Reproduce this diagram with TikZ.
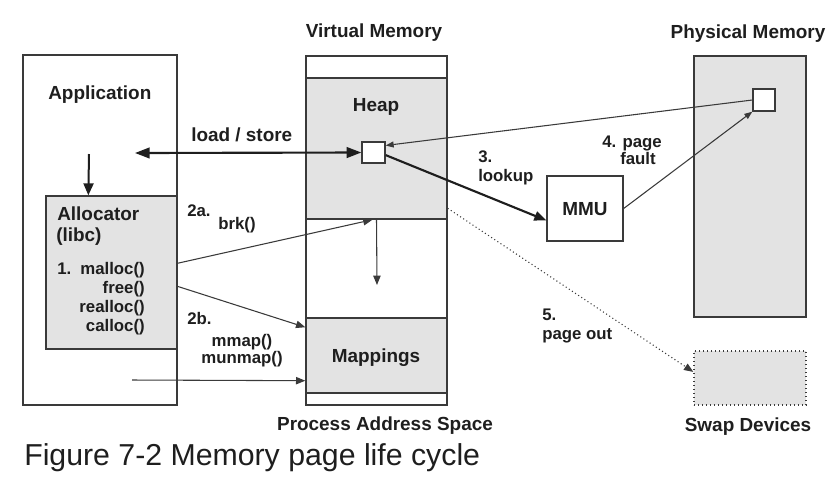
\documentclass[tikz,border=0pt]{standalone}
\usepackage{fontspec}
\setmainfont{Liberation Sans}
\usetikzlibrary{arrows.meta,fit,calc}
\definecolor{boxgray}{HTML}{E3E3E3}
\definecolor{ink}{HTML}{1E1E1E}
\definecolor{edge}{HTML}{3A3A3A}
\tikzset{
  box/.style={draw=edge, line width=1pt, inner sep=0pt},
  grayfill/.style={box, fill=boxgray},
  big/.style={font=\bfseries\fontsize{14.2}{16}\selectfont, text=ink, inner sep=0pt},
  small/.style={font=\bfseries\fontsize{12.6}{15}\selectfont, text=ink, inner sep=0pt},
  thinarrow/.style={draw=edge, line width=0.8pt, -{Triangle[length=7pt,width=5.5pt]}},
  thickarrow/.style={draw=ink, line width=1.6pt, -{Triangle[length=9pt,width=7pt]}},
}
\begin{document}
\begin{tikzpicture}[x=0.75pt,y=-0.75pt]
\useasboundingbox (0,0) rectangle (838,487);
% Application
\node[box, fit={(23,55) (177,405)}] (app) {};
\node[grayfill, fit={(46,196) (177,349)}] (alloc) {};
\node[big, anchor=base west] (tapp) at (48,99) {Application};
\node[big, anchor=base west] (talloc) at (57,220) {Allocator};
\node[big, anchor=base west] (tlibc) at (56,241) {(libc)};
\node[small, anchor=base west] (tone) at (57,274) {1.};
\node[small, anchor=base east] (tmalloc) at (145,274) {malloc()};
\node[small, anchor=base east] (tfree) at (145,293) {free()};
\node[small, anchor=base east] (trealloc) at (145,312) {realloc()};
\node[small, anchor=base east] (tcalloc) at (145,331) {calloc()};
% Virtual memory
\node[box, fit={(306,56) (447,405)}] (vm) {};
\node[grayfill, fit={(306,78) (447,219)}] (heap) {};
\node[grayfill, fit={(306,318) (447,393)}] (map) {};
\node[box, fill=white, fit={(362,142) (385,163)}] (hsq) {};
\node[big, anchor=base] (tvm) at (374,37) {Virtual Memory};
\node[big, anchor=base] (theap) at (376,111) {Heap};
\node[big, anchor=base] (tmap) at (376,362) {Mappings};
\node[big, anchor=base] (tpas) at (385,430) {Process Address Space};
% MMU
\node[box, fit={(547,176) (623,241)}] (mmu) {};
\node[big, anchor=base] (tmmu) at (585,215) {MMU};
% Physical memory
\node[grayfill, fit={(694,56) (806,317)}] (phys) {};
\node[box, fill=white, fit={(753,89) (775,111)}] (psq) {};
\node[big, anchor=base] (tphys) at (748,38) {Physical Memory};
% Swap
\node[box, fill=boxgray, dotted, line width=1pt, fit={(694,351) (806,405)}] (swap) {};
\node[big, anchor=base] (tswap) at (748,431) {Swap Devices};
% labels
\node[big, anchor=base west] (tls) at (191,141) {load / store};
\node[small, anchor=base west] (t2a) at (187,216) {2a.};
\node[small, anchor=base west] (tbrk) at (218,229) {brk()};
\node[small, anchor=base west] (t2b) at (187,324) {2b.};
\node[small, anchor=base] (tmmap) at (242,346) {mmap()};
\node[small, anchor=base] (tmunmap) at (242,363) {munmap()};
\node[small, anchor=base west] (t3) at (478,162) {3.};
\node[small, anchor=base west] (tlookup) at (478,181) {lookup};
\node[small, anchor=base west] (t4) at (602,147) {4. page};
\node[small, anchor=base east] (tfault) at (656,164) {fault};
\node[small, anchor=base west] (t5) at (542,320) {5.};
\node[small, anchor=base west] (tpo) at (542,339) {page out};
\node[anchor=base west, inner sep=0pt, text=ink, font=\fontsize{22.7}{26}\selectfont] (cap) at (24,465) {Figure 7-2 Memory page life cycle};
% connectors
\coordinate (lsfree) at (135,153);
\draw[thickarrow, {Triangle[length=11pt,width=8pt]}-{Triangle[length=11pt,width=8pt]}] (lsfree) -- (hsq.west);
\coordinate (appdown) at (89,154);
\draw[draw=ink, line width=1.5pt, -{Triangle[length=9pt,width=7.5pt]}] (appdown) -- ($(alloc.north west)+(43,0)$);
\draw[thinarrow] ($(alloc.north east)!0.44!(alloc.south east)$) -- ($(heap.south)+(-4,0)$);
\draw[thinarrow] ($(alloc.north east)!0.59!(alloc.south east)$) -- ($(map.north west)!0.13!(map.south west)$);
\coordinate (botfree) at (132,380);
\draw[thinarrow] (botfree) -- ($(map.north west)!0.83!(map.south west)$);
\coordinate (heapdown) at (377,285);
\draw[thinarrow] (heap.south) -- (heapdown);
\draw[thinarrow, -{Triangle[length=6pt,width=4.5pt]}] (psq.west) -- (hsq.30);
\draw[thickarrow] (hsq.-12) -- ($(mmu.south west)!0.32!(mmu.north west)$);
\draw[thinarrow, -{Triangle[length=6pt,width=4.5pt]}] (mmu.east) -- (psq.south west);
\draw[thinarrow, dotted, -{Triangle[length=7pt,width=5.5pt]}] ($(heap.north east)!0.92!(heap.south east)$) -- ($(swap.north west)!0.39!(swap.south west)$);
\end{tikzpicture}
\end{document}
